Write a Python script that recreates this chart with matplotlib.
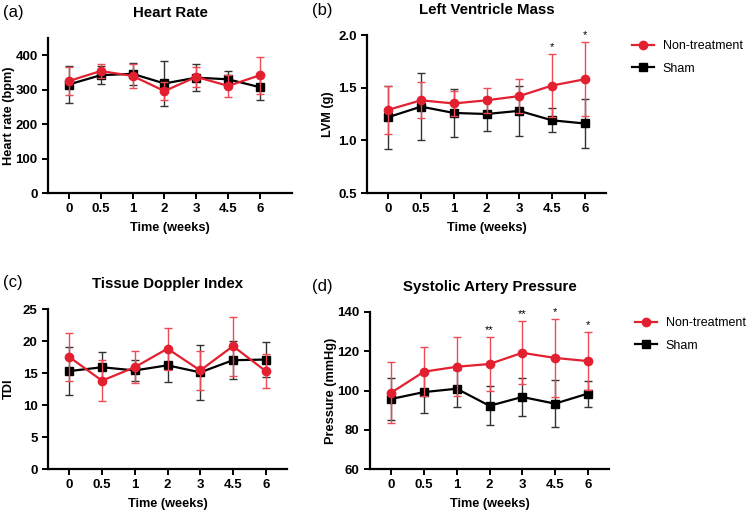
import numpy as np
import matplotlib.pyplot as plt
from matplotlib.lines import Line2D

plt.rcParams['font.family'] = ['Liberation Sans', 'DejaVu Sans']

weeks = ['0', '0.5', '1', '2', '3', '4.5', '6']

# (a) heart rate
hr_nt = [325, 354, 340, 296, 337, 311, 342]
hr_nt_sd = [40, 21, 34, 25, 30, 32, 54]
hr_sh = [315, 342, 346, 318, 335, 330, 307]
hr_sh_sd = [54, 26, 31, 65, 40, 23, 38]

# (b) left ventricle mass
lvm_nt = [1.29, 1.38, 1.35, 1.38, 1.42, 1.52, 1.58]
lvm_nt_sd = [0.23, 0.17, 0.12, 0.12, 0.165, 0.30, 0.35]
lvm_sh = [1.22, 1.32, 1.26, 1.25, 1.28, 1.19, 1.16]
lvm_sh_sd = [0.30, 0.32, 0.23, 0.165, 0.235, 0.115, 0.235]

# (c) tissue doppler index
tdi_nt = [17.5, 13.8, 15.9, 18.8, 15.4, 19.2, 15.3]
tdi_nt_sd = [3.7, 3.2, 2.5, 3.3, 3.1, 4.6, 2.6]
tdi_sh = [15.3, 15.9, 15.4, 16.2, 15.1, 17.0, 17.1]
tdi_sh_sd = [3.7, 2.4, 1.7, 2.6, 4.3, 3.0, 2.8]

# (d) systolic artery pressure
sap_nt = [98.9, 109.6, 112.1, 113.5, 119.2, 116.6, 115.0]
sap_nt_sd = [15.5, 12.6, 15.0, 14.0, 16.0, 19.8, 14.7]
sap_sh = [95.7, 99.2, 100.9, 92.2, 96.7, 93.3, 98.4]
sap_sh_sd = [10.7, 10.5, 9.3, 10.0, 9.5, 11.8, 6.6]

stars_b = {5: '*', 6: '*'}
stars_d = {3: '**', 4: '**', 5: '*', 6: '*'}

RED = '#e3202f'
BLK = '#000000'

fig = plt.figure(figsize=(7.51, 5.13), dpi=100)
W, H = 751, 513


def box(l, t, r, b):
    return [l / W, 1 - b / H, (r - l) / W, (b - t) / H]


def panel(rect, nt, nt_sd, sh, sh_sd, ylim, yticks, ylabel, title, tag, tagx, tagy,
          xmax=6.65, stars=None, legend=False):
    ax = fig.add_axes(box(*rect))
    x = np.arange(len(weeks))
    ax.errorbar(x, sh, yerr=sh_sd, color=BLK, marker='s', ms=5.5, lw=1.6,
                elinewidth=1.0, capsize=3, capthick=1.0, ecolor='#333333', zorder=3)
    ax.errorbar(x, nt, yerr=nt_sd, color=RED, marker='o', ms=6, lw=1.6,
                elinewidth=1.0, capsize=3, capthick=1.0, ecolor='#ec4a55', zorder=4)
    if stars:
        span = ylim[1] - ylim[0]
        for i, s in stars.items():
            ax.text(i, nt[i] + nt_sd[i] + span * 0.012, s, ha='center', va='bottom',
                    fontsize=8)
    ax.set_xlim(-0.65, xmax)
    ax.set_ylim(*ylim)
    ax.set_yticks(yticks)
    ax.set_xticks(x)
    ax.set_xticklabels(weeks)
    for sp in ['top', 'right']:
        ax.spines[sp].set_visible(False)
    for sp in ['left', 'bottom']:
        ax.spines[sp].set_linewidth(1.6)
    ax.tick_params(width=1.4, length=4.5, labelsize=9.5, pad=3)
    for lab in ax.get_xticklabels() + ax.get_yticklabels():
        lab.set_fontweight('bold')
    ax.set_xlabel('Time (weeks)', fontsize=9.2, fontweight='bold', labelpad=5)
    ax.set_ylabel(ylabel, fontsize=9.2, fontweight='bold')
    # label sits ~39 px left of the spine, like the reference
    ax.yaxis.set_label_coords(-33 / (rect[2] - rect[0]), 0.5)
    ax.set_title(title, fontsize=10.8, fontweight='bold', pad=15)
    fig.text(tagx / W, 1 - tagy / H, tag, fontsize=12, va='center', ha='left')
    if legend:
        handles = [Line2D([], [], color=RED, marker='o', ms=6, lw=1.6),
                   Line2D([], [], color=BLK, marker='s', ms=5.5, lw=1.6)]
        ax.legend(handles, ['Non-treatment', 'Sham'], loc='upper left',
                  bbox_to_anchor=(1.06, 1.04), frameon=False, fontsize=9,
                  handlelength=1.8, handletextpad=0.7, labelspacing=0.85)
    return ax


panel((48, 38, 292, 193), hr_nt, hr_nt_sd, hr_sh, hr_sh_sd, (0, 450),
      [0, 100, 200, 300, 400], 'Heart rate (bpm)', 'Heart Rate', '(a)', 3, 12,
      xmax=7.0)
panel((367, 35, 606, 193), lvm_nt, lvm_nt_sd, lvm_sh, lvm_sh_sd, (0.5, 2.0),
      [0.5, 1.0, 1.5, 2.0], 'LVM (g)', 'Left Ventricle Mass', '(b)', 312, 10,
      stars=stars_b, legend=True)
panel((48, 309, 287, 469), tdi_nt, tdi_nt_sd, tdi_sh, tdi_sh_sd, (0, 25),
      [0, 5, 10, 15, 20, 25], 'TDI', 'Tissue Doppler Index', '(c)', 3, 283)
panel((370, 312, 609, 469), sap_nt, sap_nt_sd, sap_sh, sap_sh_sd, (60, 140),
      [60, 80, 100, 120, 140], 'Pressure (mmHg)', 'Systolic Artery Pressure', '(d)',
      312, 286, stars=stars_d, legend=True)

fig.savefig('out.png', dpi=100)
